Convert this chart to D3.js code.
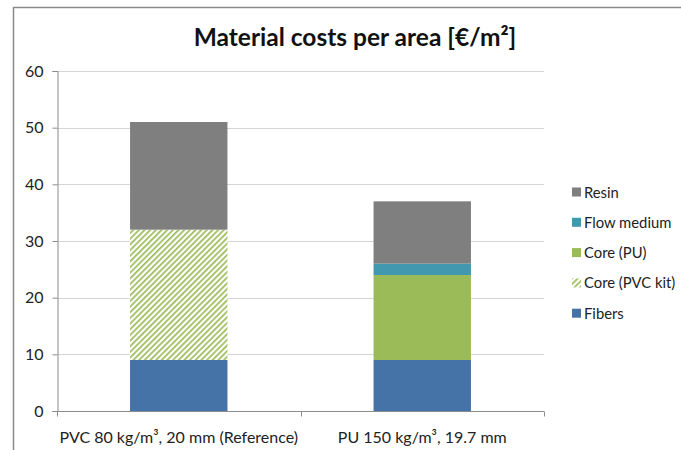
<!DOCTYPE html>
<html>
<head>
<meta charset="utf-8">
<script src="https://cdn.jsdelivr.net/npm/d3@7"></script>
<style>
  html, body { margin: 0; padding: 0; background: #fff; }
  svg { display: block; }
  text { font-family: Lato, "Open Sans", "Noto Sans", sans-serif; }
</style>
</head>
<body>
<div id="chart"></div>
<script>
// Material cost breakdown for two sandwich core options
const categories = ["PVC 80 kg/m³, 20 mm (Reference)", "PU 150 kg/m³, 19.7 mm"];
const seriesNames = ["Fibers", "Core (PVC kit)", "Core (PU)", "Flow medium", "Resin"];
const fibers = [9, 9];
const corePvcKit = [23, 0];
const corePu = [0, 15];
const flowMedium = [0, 2];
const resin = [19, 11];
const yTicks = [0, 10, 20, 30, 40, 50, 60];

const seriesValues = [fibers, corePvcKit, corePu, flowMedium, resin];
const colors = {
  "Fibers": "#4572a7",
  "Core (PVC kit)": "url(#hatch)",
  "Core (PU)": "#9bbb59",
  "Flow medium": "#4198af",
  "Resin": "#7f7f7f"
};

const W = 681, H = 450;
const plot = { left: 57, right: 544, top: 71, bottom: 411 };

const svg = d3.select("#chart").append("svg")
  .attr("width", W).attr("height", H);

// Diagonal hatch fill for the PVC kit core
const defs = svg.append("defs");
const pat = defs.append("pattern")
  .attr("id", "hatch")
  .attr("patternUnits", "userSpaceOnUse")
  .attr("width", 4).attr("height", 4)
  .attr("patternTransform", "rotate(45)");
pat.append("rect").attr("width", 4).attr("height", 4).attr("fill", "#fff");
pat.append("rect").attr("x", 0).attr("y", 0).attr("width", 1.7).attr("height", 4).attr("fill", "#9bbb59");

// Chart frame (top and left edges)
svg.append("path")
  .attr("d", `M13.5,${H} L13.5,7.5 L${W},7.5`)
  .attr("fill", "none").attr("stroke", "#8a8a8a").attr("stroke-width", 1.5);

// Title
svg.append("text")
  .attr("x", 355).attr("y", 46)
  .attr("text-anchor", "middle")
  .attr("font-size", 24.5).attr("font-weight", "bold").attr("fill", "#111")
  .text("Material costs per area [€/m²]");

const x = d3.scaleBand().domain(categories)
  .range([plot.left, plot.right]).paddingInner(0.6).paddingOuter(0.3);
const y = d3.scaleLinear().domain([0, 60]).range([plot.bottom, plot.top]);

// Gridlines
svg.append("g").selectAll("line").data(yTicks.filter(d => d > 0)).join("line")
  .attr("x1", plot.left).attr("x2", plot.right)
  .attr("y1", d => Math.round(y(d)) + 0.5).attr("y2", d => Math.round(y(d)) + 0.5)
  .attr("stroke", "#d4d4d4").attr("stroke-width", 1);

// Stacked bars
const rows = categories.map((c, i) => {
  const r = { category: c };
  seriesNames.forEach((s, k) => r[s] = seriesValues[k][i]);
  return r;
});
const stacked = d3.stack().keys(seriesNames)(rows);

svg.append("g").selectAll("g").data(stacked).join("g")
  .attr("fill", d => colors[d.key])
  .selectAll("rect").data(d => d).join("rect")
  .attr("x", d => x(d.data.category))
  .attr("width", x.bandwidth())
  .attr("y", d => y(d[1]))
  .attr("height", d => y(d[0]) - y(d[1]));

// Y axis
const yAxis = svg.append("g")
  .attr("transform", `translate(${plot.left + 0.5},0)`)
  .call(d3.axisLeft(y).tickValues(yTicks).tickSize(5).tickPadding(9).tickFormat(d3.format("d")));
yAxis.select(".domain").attr("stroke", "#8c8c8c");
yAxis.selectAll(".tick line").attr("stroke", "#8c8c8c");
yAxis.selectAll("text").attr("font-size", 16).attr("fill", "#222");

// X axis with boundary ticks between categories
const xAxis = svg.append("g")
  .attr("transform", `translate(0,${plot.bottom + 0.5})`);
xAxis.append("line")
  .attr("x1", plot.left).attr("x2", plot.right)
  .attr("stroke", "#8c8c8c");
const step = (plot.right - plot.left) / categories.length;
xAxis.selectAll(".bt").data(d3.range(categories.length + 1)).join("line")
  .attr("class", "bt")
  .attr("x1", i => Math.round(plot.left + i * step) + 0.5)
  .attr("x2", i => Math.round(plot.left + i * step) + 0.5)
  .attr("y1", 0).attr("y2", 5)
  .attr("stroke", "#8c8c8c");
xAxis.selectAll("text").data(categories).join("text")
  .attr("x", d => x(d) + x.bandwidth() / 2)
  .attr("y", 31)
  .attr("text-anchor", "middle")
  .attr("font-size", 16).attr("fill", "#222")
  .text(d => d);

// Legend (top to bottom: Resin ... Fibers)
const legendItems = seriesNames.slice().reverse();
const lg = svg.append("g").attr("transform", "translate(572,192)");
const li = lg.selectAll("g").data(legendItems).join("g")
  .attr("transform", (d, i) => `translate(0,${i * 30.3})`);
li.append("rect")
  .attr("x", 0).attr("y", -4.5).attr("width", 9).attr("height", 9)
  .attr("fill", d => colors[d]);
li.append("text")
  .attr("x", 12).attr("y", 5.5)
  .attr("font-size", 14.8).attr("fill", "#222")
  .text(d => d);
</script>
</body>
</html>
